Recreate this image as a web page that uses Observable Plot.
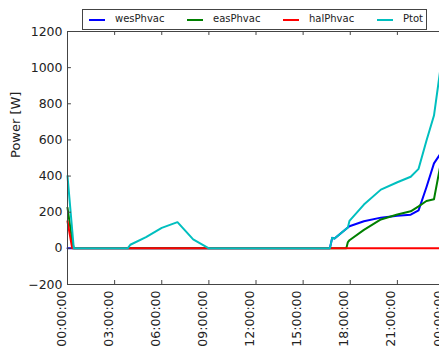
<!DOCTYPE html>
<html>
<head>
<meta charset="utf-8">
<script src="https://cdn.jsdelivr.net/npm/d3@7"></script>
<script src="https://cdn.jsdelivr.net/npm/@observablehq/plot@0.6"></script>
<style>
  html, body { margin: 0; padding: 0; background: #fff; overflow: hidden; }
  #wrap { position: relative; width: 439px; height: 352px; font-family: "DejaVu Sans", sans-serif; }
  #legend { position: absolute; left: 82px; top: 9px; width: 345px; height: 21px; box-sizing: border-box;
            border: 1px solid #444; background: #fff; font-size: 10px; color: #222; }
  #legend .item { position: absolute; top: 0; height: 19px; }
  #legend .sw { position: absolute; top: 9px; width: 16px; height: 0; border-top: 2px solid; }
  #legend .lab { position: absolute; top: 3px; white-space: nowrap; }
</style>
</head>
<body>
<div id="wrap"><div id="chart"></div><div id="legend"></div></div>
<script>
// time of day in hours
const hours = [0, 0.3, 0.4, 3.83, 4, 5, 6, 7, 8, 9, 16.7, 16.85, 17.0, 17.75, 17.85, 17.95, 18.87, 19.95, 21.0, 21.85, 22.35, 22.85, 23.33, 23.75];
const wesPhvac = [0, 0, 0, 0, 0, 0, 0, 0, 0, 0, 0, 58, 55, 108, 115, 122, 150, 170, 181, 186, 210, 338, 470, 525];
const easPhvac = [225, 40, 0, 0, 0, 0, 0, 0, 0, 0, 0, 0, 0, 0, 35, 45, 102, 160, 187, 205, 232, 262, 272, 465];
const halPhvac = [150, 0, 0, 0, 0, 0, 0, 0, 0, 0, 0, 0, 0, 0, 0, 0, 0, 0, 0, 0, 0, 0, 0, 0];
const Ptot     = [400, 100, 0, 0, 20, 62, 113, 145, 50, 0, 0, 58, 55, 108, 115, 152, 242, 325, 366, 396, 440, 595, 735, 1000];

const seriesNames = ["wesPhvac", "easPhvac", "halPhvac", "Ptot"];
const seriesValues = [wesPhvac, easPhvac, halPhvac, Ptot];
const seriesColors = ["#0000ff", "#008000", "#ff0000", "#00bfbf"];

const xTickHours = [0, 3, 6, 9, 12, 15, 18, 21, 24];
const yTicks = [-200, 0, 200, 400, 600, 800, 1000, 1200];

const base = Date.UTC(2016, 0, 1);
const toDate = h => new Date(base + h * 3600e3);
const xTicks = xTickHours.map(toDate);
const fmt = d3.utcFormat("%H:%M:%S");
const yFmt = d3.format("d");

const tables = seriesValues.map((vals, i) => hours.map((h, j) => ({date: toDate(h), value: vals[j], series: seriesNames[i]})));

const tickLenY = 22;   // inward tick length in data units (y)
const tickLenX = 0.25 * 3600e3; // inward tick length in ms (x)

const plot = Plot.plot({
  width: 439,
  height: 352,
  marginLeft: 67,
  marginRight: -5,
  marginTop: 31,
  marginBottom: 68,
  style: {fontFamily: "DejaVu Sans, sans-serif", fontSize: "12.5px", color: "#222", background: "#fff"},
  x: {type: "utc", domain: [toDate(0), toDate(24)]},
  y: {domain: [-200, 1200]},
  marks: [
    ...tables.map((t, i) => Plot.line(t, {x: "date", y: "value", stroke: seriesColors[i], strokeWidth: 2})),
    Plot.frame({stroke: "#444"}),
    Plot.ruleX(xTicks, {x: d => d, y1: -200, y2: -200 + tickLenY, stroke: "#444"}),
    Plot.ruleX(xTicks, {x: d => d, y1: 1200, y2: 1200 - tickLenY, stroke: "#444"}),
    Plot.ruleY(yTicks, {y: d => d, x1: toDate(0), x2: new Date(+toDate(0) + tickLenX), stroke: "#444"}),
    Plot.ruleY(yTicks, {y: d => d, x1: toDate(24), x2: new Date(+toDate(24) - tickLenX), stroke: "#444"}),
    Plot.axisX(xTicks, {tickSize: 0, tickPadding: 6, tickRotate: -90, tickFormat: fmt, label: null, dx: -6}),
    Plot.axisY(yTicks, {tickSize: 0, tickPadding: 5, tickFormat: yFmt, label: null}),
    Plot.text(["Power [W]"], {frameAnchor: "left", dx: -52, rotate: -90, fontSize: 13, text: d => d, fill: "#222"})
  ]
});
document.getElementById("chart").appendChild(plot);

const legend = document.getElementById("legend");
const swLeft = [6, 104, 200, 294];
seriesNames.forEach((name, i) => {
  const item = document.createElement("div");
  item.className = "item";
  item.style.left = swLeft[i] + "px";
  const sw = document.createElement("div");
  sw.className = "sw";
  sw.style.left = "0px";
  sw.style.borderTopColor = seriesColors[i];
  const lab = document.createElement("div");
  lab.className = "lab";
  lab.style.left = "26px";
  lab.textContent = name;
  item.appendChild(sw);
  item.appendChild(lab);
  legend.appendChild(item);
});
</script>
</body>
</html>
